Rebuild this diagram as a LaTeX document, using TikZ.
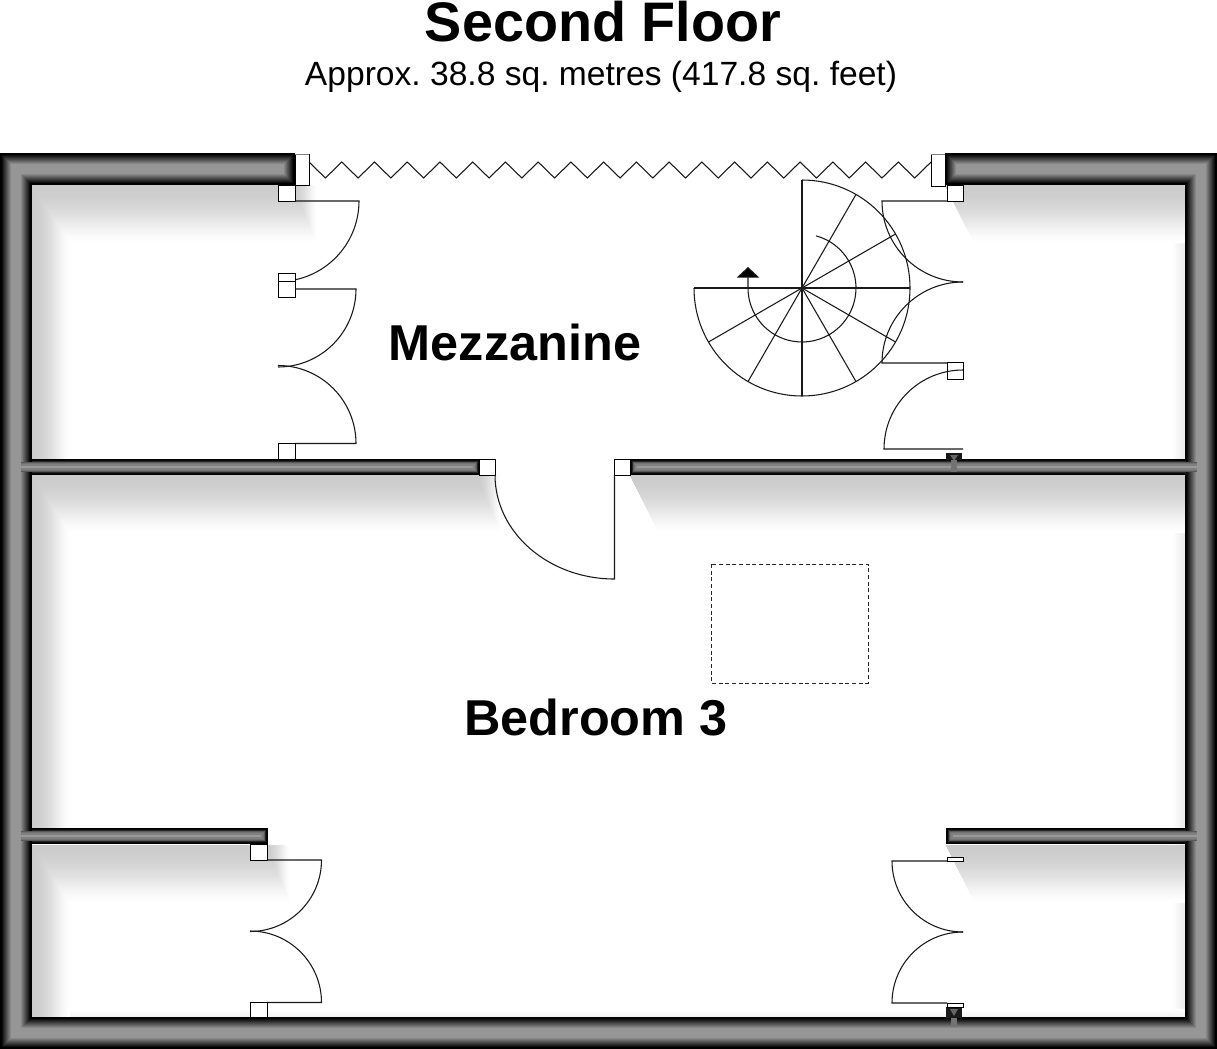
\documentclass[tikz,border=0pt]{standalone}
\usepackage{fontspec}
\setmainfont{Liberation Sans}
\usepackage{tikz}
\usetikzlibrary{arrows.meta}
\frenchspacing
\tikzstyle{jamb} = [draw=black, fill=white, line width=0.75pt]
\tikzstyle{doorline} = [draw=black!90, line width=0.8pt]
\tikzstyle{stairline} = [draw=black!90, line width=0.8pt]
\tikzstyle{roomname} = [anchor=base, inner sep=0pt, font=\fontsize{37.8}{45}\selectfont\bfseries]
\newcommand{\shadowleft}[4]{
    \foreach \i in {0,...,29} {
        \pgfmathsetmacro{\t}{1-\i/29}
        \pgfmathsetmacro{\p}{20*(1-\t*\t)*sqrt(1-\t*\t)}
        \fill[black!\p] (#1,#2) -- (#3+25*\t,#2) -- (#3+25*\t,#2+58*\t) -- (#1+38*\t,#2+58*\t)
            -- (#1+38*\t,#4) -- (#1,#4) -- cycle;
    }
}
\newcommand{\shadowright}[3]{
    \foreach \i in {0,...,29} {
        \pgfmathsetmacro{\t}{1-\i/29}
        \pgfmathsetmacro{\p}{20*(1-\t*\t)*sqrt(1-\t*\t)}
        \fill[black!\p] (#1,#2) -- (#3,#2) -- (#3,#2+58*\t) -- (#1+29*\t,#2+58*\t) -- cycle;
    }
}
\newcommand{\partwall}[5]{
    \foreach \k/\p in {0/100,1/97,2/85,3/65,4/55,5/50,6/50,7/40} {
        \pgfmathsetmacro{\xa}{#1+#4*\k-(1-#4)*11*(\k>2)}
        \pgfmathsetmacro{\xb}{#2-#5*\k+(1-#5)*11*(\k>2)}
        \draw[black!\p, line width=12pt-1.5*\k pt] (\xa,#3) -- (\xb,#3);
    }
}

\begin{document}
\begin{tikzpicture}[x=0.75pt, y=-0.75pt]
\useasboundingbox (0,0) rectangle (1217,1049);
\fill[white] (0,0) rectangle (1217,1049);

\node (title) at (603,42) [roomname, font=\fontsize{41.8}{50}\selectfont\bfseries] {Second Floor};
\node (subtitle) at (601,86) [anchor=base, inner sep=0pt, font=\fontsize{25.2}{30}\selectfont] {Approx. 38.8 sq. metres (417.8 sq. feet)};

\shade[left color=white, right color=black!9] (1172,185) rectangle (1186,1017);
\shade[top color=white, bottom color=black!6] (32,1009) rectangle (1186,1017);
\shadowleft{32}{185}{292}{459}
\shadowright{945}{185}{1186}
\shadowleft{32}{475}{476}{829}
\shadowright{630}{475}{1186}
\shadowleft{32}{845}{265}{1017}
\shadowright{946}{845}{1186}

\foreach \k in {0,...,15} {
    \pgfmathsetmacro{\p}{100-59*min(max(\k-1,0)/10,1)}
    \draw[black!\p, line width=24pt-1.5*\k pt, miter limit=10] (295-\k,169) -- (16,169) -- (16,1033)
        -- (1201,1033) -- (1201,169) -- (945+\k,169);
}
\partwall{32}{480}{467}{0}{1}
\partwall{630}{1186}{467}{1}{0}
\partwall{32}{268}{836}{0}{1}
\partwall{946}{1186}{836}{1}{0}

\fill[black!55] (951,459) rectangle (957,472);
\fill[black!90] (946,453) rectangle (962,460);
\fill[black!60] (950,455) -- (958,455) -- (954,461) -- cycle;
\fill[black!55] (951,1017) rectangle (957,1027);
\fill[black!90] (946,1007) rectangle (962,1018);
\fill[black!60] (950,1009) -- (958,1009) -- (954,1016) -- cycle;

\draw[jamb] (295,154) rectangle (309,185);
\draw[jamb] (931,154) rectangle (945,186);
\draw[draw=black!50, line width=0.75pt] (295,154) -- (309,154);
\draw[draw=black!50, line width=0.75pt] (931,154) -- (945,154);
\draw[stairline] (309,162) \foreach \i in {1,...,19} { -- ++(16.37,16) -- ++(16.37,-16) };

\draw[jamb] (278,185) rectangle (295,201);
\draw[doorline] (295,201) -- (359,201) arc[start angle=0, end angle=90, radius=80.5];
\draw[jamb] (278,273) rectangle (295,281);
\draw[jamb] (278,281) rectangle (295,297);
\draw[doorline] (295,289) -- (356,289) arc[start angle=0, end angle=90, radius=78];
\draw[doorline] (278,365.5) arc[start angle=-90, end angle=0, radius=78] -- (295,443.5);
\draw[jamb] (278,443) rectangle (295,459);

\draw[jamb] (479,459) rectangle (495,475);
\draw[jamb] (614,459) rectangle (630,475);
\draw[doorline] (614.5,475) -- (614.5,579) arc[start angle=90, end angle=180, x radius=119.5, y radius=104];

\draw[jamb] (947,185) rectangle (963,201);
\draw[doorline] (947,201) -- (882,201) arc[start angle=180, end angle=90, radius=81];
\draw[doorline] (963,282) arc[start angle=-90, end angle=-180, radius=81] -- (947,363);
\draw[jamb] (947,362) rectangle (963,379);
\draw[doorline] (963,370) arc[start angle=-90, end angle=-180, radius=79] -- (963,449);

\draw[jamb] (250,844) rectangle (267,860);
\draw[doorline] (267,860) -- (321.5,860) arc[start angle=0, end angle=90, radius=71.5];
\draw[doorline] (250,931) arc[start angle=-90, end angle=0, radius=71.5] -- (267,1002.5);
\draw[jamb] (250,1002) rectangle (267,1017);

\draw[jamb] (947,857) rectangle (963,861);
\draw[doorline] (947,861) -- (892,861) arc[start angle=180, end angle=90, radius=71];
\draw[doorline] (963,932) arc[start angle=-90, end angle=-180, radius=71] -- (947,1003);
\draw[jamb] (947,1003) rectangle (963,1007);

\coordinate (stair) at (802,288);
\draw[stairline] (stair) ++(-90:108) arc[start angle=-90, end angle=180, radius=108];
\foreach \a in {-90,-60,-30,0,30,60,90,120,150,180} {
    \draw[stairline] (stair) -- +(\a:108);
}
\draw[stairline, -{Triangle[width=17pt, length=8pt, fill=black]}] (stair) ++(-75:54)
    arc[start angle=-75, end angle=180, radius=54] -- ++(0,-21);

\draw[draw=black!85, line width=0.6pt, dash pattern=on 3pt off 2pt] (711,564) rectangle (868,683);

\node (mezzanine) at (515,360) [roomname] {Mezzanine};
\node (bedroom) at (596,735) [roomname] {Bedroom 3};
\end{tikzpicture}
\end{document}
